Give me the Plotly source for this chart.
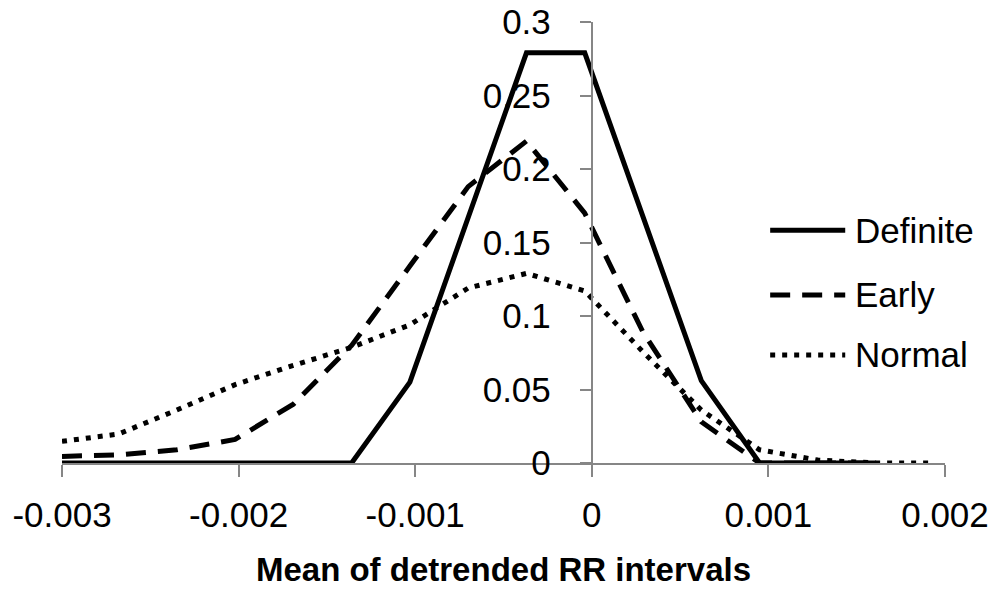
import plotly.graph_objects as go

# bin centres (mean of detrended RR intervals)
x_vals = [-0.00300, -0.00268, -0.00235, -0.00202, -0.00169, -0.00136, -0.00103, -0.00070,
          -0.00037, -0.00004, 0.00029, 0.00062, 0.00095, 0.00128, 0.00161, 0.00194]

definite = [0.0, 0.0, 0.0, 0.0, 0.0, 0.0, 0.055, 0.166, 0.279, 0.279, 0.167, 0.056,
            0.0, 0.0, 0.0, None]
early = [0.0045, 0.0055, 0.009, 0.016, 0.040, 0.080, 0.134, 0.188, 0.219, 0.170, 0.089,
         0.028, 0.0, 0.0, 0.0, None]
normal = [0.0147, 0.0197, 0.036, 0.0533, 0.0664, 0.0787, 0.094, 0.119, 0.129, 0.117,
          0.0756, 0.036, 0.009, 0.002, 0.0, 0.0]

series_names = ["Definite", "Early", "Normal"]

x_tickvals = [-0.003, -0.002, -0.001, 0, 0.001, 0.002]
x_ticktext = ["-0.003", "-0.002", "-0.001", "0", "0.001", "0.002"]
y_tickvals = [0, 0.05, 0.1, 0.15, 0.2, 0.25, 0.3]
y_ticktext = ["0", "0.05", "0.1", "0.15", "0.2", "0.25", "0.3"]

FONT = "Liberation Sans"
AXIS_GREY = "#868686"
dashes = ["solid", "20px,12px", "5px,7px"]

fig = go.Figure()
for name, ys, dash in zip(series_names, [definite, early, normal], dashes):
    fig.add_trace(go.Scatter(
        x=x_vals, y=ys, name=name, mode="lines",
        line=dict(color="black", width=5, dash=dash),
        showlegend=False, connectgaps=False,
    ))

# manual legend (Excel-style long line samples)
legend_y = [0.528, 0.381, 0.245]
for name, dash, ly in zip(series_names, dashes, legend_y):
    fig.add_shape(type="line", xref="paper", yref="paper",
                  x0=0.802, x1=0.887, y0=ly, y1=ly,
                  line=dict(color="black", width=5, dash=dash))
    fig.add_annotation(xref="paper", yref="paper", x=0.896, y=ly, text=name,
                       showarrow=False, xanchor="left", yanchor="middle",
                       font=dict(family=FONT, size=35, color="black"))

fig.update_layout(
    width=994, height=591,
    margin=dict(l=62, r=49, t=22, b=128),
    paper_bgcolor="white", plot_bgcolor="white",
    font=dict(family=FONT, size=35, color="black"),
    xaxis=dict(
        range=[-0.003, 0.002], tickvals=x_tickvals, ticktext=x_ticktext,
        showgrid=False, zeroline=False, showline=True, linecolor=AXIS_GREY, linewidth=2,
        ticks="outside", ticklen=12, tickwidth=2, tickcolor=AXIS_GREY,
        ticklabelstandoff=8, automargin=False,
        tickfont=dict(family=FONT, size=35, color="black"),
        title=dict(text="<b>Mean of detrended RR intervals</b>",
                   font=dict(family=FONT, size=33, color="black"), standoff=25),
    ),
    yaxis=dict(
        range=[0, 0.3], tickvals=y_tickvals, ticktext=y_ticktext,
        anchor="free", position=0.6, automargin=False,
        showgrid=False, zeroline=False, showline=True, linecolor=AXIS_GREY, linewidth=2,
        ticks="outside", ticklen=11, tickwidth=2, tickcolor=AXIS_GREY,
        ticklabelstandoff=22,
        tickfont=dict(family=FONT, size=35, color="black"),
    ),
)

fig.write_html("out.html",
               config={"displayModeBar": False},
               post_script="document.body.style.margin='0';document.body.style.overflow='hidden';")
